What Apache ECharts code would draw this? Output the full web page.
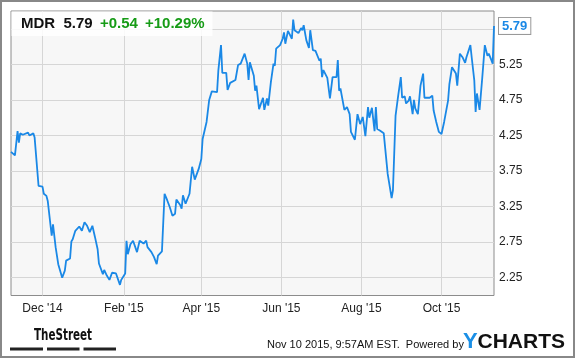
<!DOCTYPE html>
<html>
<head>
<meta charset="utf-8">
<script src="https://cdn.jsdelivr.net/npm/echarts@6/dist/echarts.min.js"></script>
<style>
html,body{margin:0;padding:0;background:#fff;}
#chart{width:575px;height:358px;}
</style>
</head>
<body>
<div id="chart"></div>
<script>
const dates = [
'2014-11-07','2014-11-10','2014-11-12','2014-11-13','2014-11-14','2014-11-16','2014-11-20','2014-11-21','2014-11-24','2014-11-25','2014-11-28',
'2014-12-01','2014-12-02','2014-12-04','2014-12-05','2014-12-08','2014-12-09','2014-12-11','2014-12-13','2014-12-16','2014-12-18','2014-12-19','2014-12-22','2014-12-23','2014-12-24','2014-12-26','2014-12-29','2014-12-31',
'2015-01-02','2015-01-04','2015-01-06','2015-01-08','2015-01-10','2015-01-12','2015-01-13','2015-01-14','2015-01-16','2015-01-17','2015-01-19','2015-01-21','2015-01-23','2015-01-26','2015-01-27','2015-01-29','2015-01-30',
'2015-02-02','2015-02-03','2015-02-04','2015-02-06','2015-02-08','2015-02-11','2015-02-13','2015-02-16','2015-02-18','2015-02-19','2015-02-22','2015-02-24','2015-02-26','2015-02-27',
'2015-03-02','2015-03-04','2015-03-06','2015-03-08','2015-03-10','2015-03-12','2015-03-13','2015-03-16','2015-03-17','2015-03-18','2015-03-20','2015-03-23','2015-03-25','2015-03-27','2015-03-30',
'2015-04-01','2015-04-02','2015-04-05','2015-04-07','2015-04-08','2015-04-09','2015-04-13','2015-04-14','2015-04-16','2015-04-17','2015-04-20','2015-04-21','2015-04-23','2015-04-27','2015-04-29',
'2015-05-01','2015-05-04','2015-05-06','2015-05-07','2015-05-08','2015-05-11','2015-05-12','2015-05-13','2015-05-15','2015-05-18','2015-05-19','2015-05-21','2015-05-22','2015-05-24','2015-05-26','2015-05-27','2015-05-28','2015-05-31',
'2015-06-02','2015-06-03','2015-06-04','2015-06-06','2015-06-09','2015-06-10','2015-06-11','2015-06-14','2015-06-16','2015-06-17','2015-06-18','2015-06-20','2015-06-22','2015-06-23','2015-06-25','2015-06-27','2015-06-30',
'2015-07-01','2015-07-02','2015-07-03','2015-07-06','2015-07-08','2015-07-10','2015-07-13','2015-07-14','2015-07-15','2015-07-16','2015-07-19','2015-07-21','2015-07-23','2015-07-24','2015-07-27','2015-07-29','2015-07-31',
'2015-08-02','2015-08-04','2015-08-06','2015-08-07','2015-08-09','2015-08-11','2015-08-12','2015-08-13','2015-08-15','2015-08-18','2015-08-21','2015-08-24','2015-08-25','2015-08-26','2015-08-27','2015-08-29','2015-08-31',
'2015-09-01','2015-09-03','2015-09-04','2015-09-06','2015-09-07','2015-09-09','2015-09-10','2015-09-11','2015-09-13','2015-09-15','2015-09-17','2015-09-18','2015-09-22','2015-09-24','2015-09-25','2015-09-27','2015-09-29',
'2015-10-01','2015-10-03','2015-10-06','2015-10-07','2015-10-09','2015-10-12','2015-10-13','2015-10-15','2015-10-17','2015-10-19','2015-10-20','2015-10-21','2015-10-23','2015-10-24','2015-10-26','2015-10-27','2015-10-28','2015-10-30',
'2015-11-01','2015-11-03','2015-11-05','2015-11-06','2015-11-08','2015-11-09','2015-11-10'
];
const prices = [
4.02,3.97,4.31,4.15,4.28,4.26,4.29,4.25,4.28,4.22,3.54,
3.53,3.43,3.40,3.33,2.84,3.00,2.68,2.44,2.25,2.35,2.49,2.52,2.76,2.79,2.91,2.97,2.91,
3.03,2.98,2.89,2.98,2.82,2.65,2.45,2.44,2.30,2.36,2.28,2.22,2.32,2.31,2.30,2.15,2.22,
2.31,2.77,2.58,2.72,2.77,2.61,2.77,2.73,2.77,2.68,2.61,2.54,2.44,2.56,
2.62,3.43,3.34,3.24,3.12,3.15,3.35,3.27,3.22,3.41,3.29,3.43,3.81,3.63,3.78,
3.92,4.20,4.44,4.75,4.77,4.87,4.86,5.17,5.52,5.13,5.13,4.89,4.99,5.03,5.24,
5.26,5.40,5.26,5.03,5.28,5.09,4.88,4.95,4.62,4.78,4.61,4.77,4.67,5.00,5.26,5.23,5.47,5.52,
5.61,5.70,5.54,5.72,5.61,5.88,5.73,5.69,5.76,5.73,5.80,5.59,5.48,5.73,5.45,5.44,5.30,
5.33,5.07,5.17,5.06,4.77,5.07,5.07,5.31,4.88,4.91,4.61,4.65,4.55,4.30,4.19,4.55,4.41,
4.51,4.24,4.65,4.50,4.64,4.31,4.65,4.34,4.32,4.28,3.71,3.37,3.48,3.47,4.53,4.81,5.07,
4.78,4.80,4.70,4.74,4.80,4.55,4.75,4.63,4.55,4.95,5.12,4.78,4.78,4.81,4.60,4.44,4.30,
4.27,4.44,4.74,4.97,5.21,5.12,4.95,5.40,5.35,5.27,5.35,5.33,5.52,5.35,5.02,4.58,4.84,4.61,
5.05,5.52,5.37,5.40,5.31,5.26,5.79
];
const xTickDates = ['2014-12-01','2015-02-01','2015-04-01','2015-06-01','2015-08-01','2015-10-01'];
const xTickLabels = ["Dec '14","Feb '15","Apr '15","Jun '15","Aug '15","Oct '15"];
const yGridValues = [2.25,2.75,3.25,3.75,4.25,4.75,5.25,5.75];
const yLabelValues = [2.25,2.75,3.25,3.75,4.25,4.75,5.25];

function parseDate(s){ const p = s.split('-').map(Number); return new Date(p[0], p[1]-1, p[2]).getTime(); }
const seriesData = dates.map((d,i)=>[parseDate(d), prices[i]]);
const xTickTimes = xTickDates.map(parseDate);

const chart = echarts.init(document.getElementById('chart'), null, {renderer:'canvas'});
const lineBlue = '#1a88e6';
const green = '#169b16';
chart.setOption({
  animation:false,
  grid:{left:11, right:81, top:11, bottom:62.5, show:true, backgroundColor:'#f7f7f7', borderColor:'#8c8c8c', borderWidth:1},
  xAxis:{
    type:'value',
    min:parseDate('2014-11-07'), max:parseDate('2015-11-10'),
    axisLine:{show:false},
    axisTick:{show:false, customValues:xTickTimes},
    axisLabel:{customValues:xTickTimes, color:'#222', fontSize:12, fontFamily:'Liberation Sans, Arial, sans-serif', margin:7,
      formatter:function(v){ const i = xTickTimes.indexOf(v); return i>=0 ? xTickLabels[i] : ''; }},
    splitLine:{show:true, lineStyle:{color:'#d6d6d6', width:1}}
  },
  yAxis:{
    type:'value', position:'right', min:2, max:6,
    axisLine:{show:false},
    axisTick:{show:false, customValues:yGridValues},
    axisLabel:{customValues:yLabelValues, color:'#222', fontSize:12, fontFamily:'Liberation Sans, Arial, sans-serif', margin:5,
      formatter:function(v){ return v.toFixed(2); }},
    splitLine:{show:true, lineStyle:{color:'#d6d6d6', width:1}}
  },
  series:[{
    type:'line', data:seriesData, showSymbol:false, symbol:'none',
    lineStyle:{color:lineBlue, width:1.8},
    endLabel:{show:true, formatter:function(p){ return p.value[1].toFixed(2); },
      color:lineBlue, fontWeight:'bold', fontSize:13, fontFamily:'Liberation Sans, Arial, sans-serif',
      backgroundColor:'#fff', borderColor:'#999', borderWidth:1, padding:[2,3,1,3], distance:5}
  }],
  graphic:[
    {type:'rect', shape:{x:1,y:1,width:573,height:356}, style:{fill:'none', stroke:'#888', lineWidth:2}, silent:true, z:100},
    {type:'rect', shape:{x:11.5,y:11.5,width:201,height:24.5}, style:{fill:'rgba(255,255,255,0.85)'}, z:50},
    {type:'text', x:21, y:24, style:{text:'MDR', fill:'#111', font:'bold 15px "Liberation Sans", Arial', textVerticalAlign:'middle'}, z:51},
    {type:'text', x:63.5, y:24, style:{text:'5.79', fill:'#111', font:'bold 15px "Liberation Sans", Arial', textVerticalAlign:'middle'}, z:51},
    {type:'text', x:100, y:24, style:{text:'+0.54', fill:green, font:'bold 15px "Liberation Sans", Arial', textVerticalAlign:'middle'}, z:51},
    {type:'text', x:145, y:24, style:{text:'+10.29%', fill:green, font:'bold 15px "Liberation Sans", Arial', textVerticalAlign:'middle'}, z:51},
    {type:'text', x:63, y:336, scaleX:0.72, style:{text:'TheStreet', fill:'#111', font:'bold 16px "DejaVu Sans Condensed", sans-serif', textAlign:'center', textVerticalAlign:'middle'}, z:51},
    {type:'rect', shape:{x:10,y:347.5,width:33,height:3}, style:{fill:'#222'}},
    {type:'rect', shape:{x:47,y:347.5,width:32.5,height:3}, style:{fill:'#222'}},
    {type:'rect', shape:{x:83.5,y:347.5,width:32.5,height:3}, style:{fill:'#222'}},
    {type:'text', x:267, y:345, style:{text:'Nov 10 2015, 9:57AM EST.  Powered by', fill:'#111', font:'11px "Liberation Sans", Arial', textVerticalAlign:'middle'}},
    {type:'text', x:463, y:342, style:{text:'Y', fill:'#1a8fe6', font:'bold 22px "Liberation Sans", Arial', textVerticalAlign:'middle'}},
    {type:'text', x:565, y:342, style:{text:'CHARTS', fill:'#111', font:'bold 21px "Liberation Sans", Arial', textAlign:'right', textVerticalAlign:'middle'}}
  ]
});
</script>
</body>
</html>
